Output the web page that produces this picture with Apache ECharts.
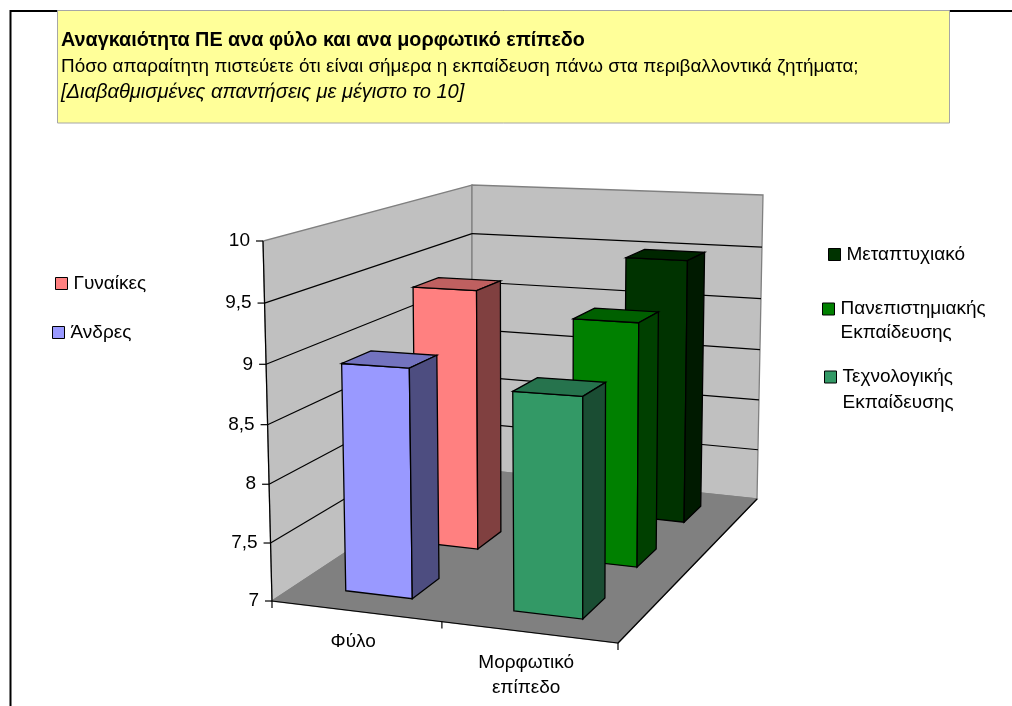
<!DOCTYPE html>
<html>
<head>
<meta charset="utf-8">
<style>
  html, body { margin: 0; padding: 0; background: #fff; }
  #chart { width: 1012px; height: 706px; }
</style>
<script src="https://cdn.jsdelivr.net/npm/echarts@6/dist/echarts.min.js"></script>
</head>
<body>
<div id="chart"></div>
<script>
const categories = ["Φύλο", "Μορφωτικό\nεπίπεδο"];
const yTicks = [7, 7.5, 8, 8.5, 9, 9.5, 10];
const yTickLabels = ["7", "7,5", "8", "8,5", "9", "9,5", "10"];

const women = [9.36, null];
const men = [8.95, null];
const postgraduate = [null, 9.49];
const university = [null, 9.16];
const technological = [null, 8.82];

const titleLine = "Αναγκαιότητα ΠΕ ανα φύλο και ανα μορφωτικό επίπεδο";
const questionLine = "Πόσο απαραίτητη πιστεύετε ότι είναι σήμερα η εκπαίδευση πάνω στα περιβαλλοντικά ζητήματα;";
const noteLine = "[Διαβαθμισμένες απαντήσεις με μέγιστο το 10]";

const FONT = '"Liberation Sans", Arial, sans-serif';

// corners of the 3D box on screen
const floorA = [272, 601], floorB = [618, 643], floorC = [757, 499], floorD = [472, 469];
const topA = [263, 241], topC = [763, 195], topD = [472, 185];
const GRID = { left: 272, top: 241, width: 346, height: 360 };
const K = -0.04; // slight perspective along the value axis

// projective map from (u across, v deep, t up), all 0..1, to the screen
const det = (p, q) => p[0] * q[1] - p[1] * q[0];
const d1 = [floorB[0] - floorC[0], floorB[1] - floorC[1]];
const d2 = [floorD[0] - floorC[0], floorD[1] - floorC[1]];
const s = [floorA[0] - floorB[0] + floorC[0] - floorD[0], floorA[1] - floorB[1] + floorC[1] - floorD[1]];
const g = det(s, d2) / det(d1, d2);
const h = det(d1, s) / det(d1, d2);
const wC = 1 + g + h, wD = 1 + h;
const num0 = [0, 1].map(i => ({
  a: floorB[i] - floorA[i] + g * floorB[i],
  b: floorD[i] - floorA[i] + h * floorD[i],
  c: floorA[i]
}));
const num1 = [0, 1].map(i => {
  const c = topA[i] * (1 + K);
  const b = topD[i] * (wD + K) - c;
  const a = topC[i] * (wC + K) - topD[i] * (wD + K);
  return { a, b, c };
});

function project(u, v, t) {
  const w = 1 + g * u + h * v;
  const den = w * (1 - t) + (w + K) * t;
  return [0, 1].map(i => {
    const n0 = num0[i].a * u + num0[i].b * v + num0[i].c;
    const n1 = num1[i].a * u + num1[i].b * v + num1[i].c;
    return (n0 * (1 - t) + n1 * t) / den;
  });
}

const toT = py => (GRID.top + GRID.height - py) / GRID.height;
const toU = px => (px - GRID.left) / GRID.width;

function poly(points, fill, stroke) {
  return {
    type: "polygon",
    shape: { points },
    style: { fill, stroke: stroke || null, lineWidth: 1.3 }
  };
}

function seg(p, q, stroke) {
  return {
    type: "line",
    shape: { x1: p[0], y1: p[1], x2: q[0], y2: q[1] },
    style: { stroke, lineWidth: 1.2 }
  };
}

function label(x, y, text, align, verticalAlign) {
  return {
    type: "text",
    style: { x, y, text, align, verticalAlign, font: "19px " + FONT, fill: "#000", lineHeight: 25 }
  };
}

function renderWalls(params, api) {
  const a0 = project(0, 0, 0), b0 = project(1, 0, 0), c0 = project(1, 1, 0), d0 = project(0, 1, 0);
  const a1 = project(0, 0, 1), c1 = project(1, 1, 1), d1t = project(0, 1, 1);
  return {
    type: "group",
    children: [
      poly([a0, d0, d1t, a1], "#C0C0C0", "#808080"),
      poly([d0, c0, c1, d1t], "#C0C0C0", "#808080"),
      poly([a0, b0, c0, d0], "#808080", "#808080"),
      seg(a0, b0, "#000"),
      seg(b0, c0, "#000"),
      seg(a0, a1, "#000")
    ]
  };
}

function renderTick(params, api) {
  const t = toT(api.coord([0, api.value(0)])[1]);
  const front = project(0, 0, t), back = project(0, 1, t), right = project(1, 1, t);
  const children = [
    seg([front[0] - 7, front[1]], front, "#000"),
    label(front[0] - 13, front[1], yTickLabels[params.dataIndex], "right", "middle")
  ];
  if (t > 0 && t < 1) {
    children.push(seg(front, back, "#000"), seg(back, right, "#000"));
  }
  return { type: "group", children };
}

function renderCategory(params, api) {
  const u = toU(api.coord([api.value(0), 7])[0]);
  const mid = project(u, 0, 0);
  const start = project(u - 0.25, 0, 0), end = project(u + 0.25, 0, 0);
  const children = [
    label(mid[0] - 3, mid[1] + 18, categories[params.dataIndex], "center", "top"),
    seg(end, [end[0], end[1] + 7], "#000")
  ];
  if (params.dataIndex === 0) children.push(seg(start, [start[0], start[1] + 7], "#000"));
  return { type: "group", children };
}

const BAR_W = 0.1, BAR_D = 0.065;

function renderBar(depth, color) {
  return function (params, api) {
    const pt = api.coord([api.value(0), api.value(1)]);
    const u = toU(pt[0]), t = toT(pt[1]);
    const v = (depth + 0.5) / 3;
    const u0 = u - BAR_W, u1 = u + BAR_W, v0 = v - BAR_D, v1 = v + BAR_D;
    const fl = project(u0, v0, 0), fr = project(u1, v0, 0), br = project(u1, v1, 0);
    const tfl = project(u0, v0, t), tfr = project(u1, v0, t), tbr = project(u1, v1, t), tbl = project(u0, v1, t);
    return {
      type: "group",
      children: [
        poly([fl, fr, tfr, tfl], color, "#000"),
        poly([tfl, tfr, tbr, tbl], echarts.color.lerp(0.25, [color, "#000"]), "#000"),
        poly([fr, br, tbr, tfr], echarts.color.lerp(0.5, [color, "#000"]), "#000")
      ]
    };
  };
}

function barSeries(name, values, depth, color) {
  return {
    name,
    type: "custom",
    renderItem: renderBar(depth, color),
    itemStyle: { color },
    data: values.map((v, i) => [i, v]).filter(d => d[1] !== null)
  };
}

// the legend centres its text on the swatch, a leading empty line puts the swatch on the first line
function legendAt(name, left, top, lineHeight) {
  return {
    data: [name],
    left,
    top,
    padding: 0,
    orient: "vertical",
    icon: "rect",
    itemWidth: 12,
    itemHeight: 12,
    itemGap: 0,
    selectedMode: false,
    formatter: n => (n.indexOf("\n") > 0 ? "\n" + n : n),
    itemStyle: { borderColor: "#000", borderWidth: 1 },
    textStyle: {
      fontFamily: FONT, fontSize: 19, color: "#000", lineHeight: lineHeight || 25,
      padding: [0, 0, 0, 1]
    }
  };
}

const uniName = "Πανεπιστημιακής\nΕκπαίδευσης";
const tecName = "Τεχνολογικής\nΕκπαίδευσης";

const option = {
  animation: false,
  backgroundColor: "#fff",
  grid: Object.assign({ containLabel: false }, GRID),
  xAxis: { type: "category", data: categories, show: false },
  yAxis: { type: "value", min: 7, max: 10, interval: 0.5, show: false },
  legend: [
    legendAt("Γυναίκες", 55, 271),
    legendAt("Άνδρες", 52, 320),
    legendAt("Μεταπτυχιακό", 828, 242),
    legendAt(uniName, 822, 273, 24),
    legendAt(tecName, 824, 338, 26)
  ],
  series: [
    { type: "custom", silent: true, renderItem: renderWalls, data: [[0]] },
    { type: "custom", silent: true, renderItem: renderTick, data: yTicks.map(v => [v]) },
    { type: "custom", silent: true, renderItem: renderCategory, data: categories.map((c, i) => [i]) },
    barSeries("Μεταπτυχιακό", postgraduate, 2, "#003300"),
    barSeries(uniName, university, 1, "#008000"),
    barSeries("Γυναίκες", women, 1, "#FF8080"),
    barSeries(tecName, technological, 0, "#339966"),
    barSeries("Άνδρες", men, 0, "#9999FF")
  ],
  graphic: [
    { type: "line", shape: { x1: 10, y1: 11, x2: 1012, y2: 11 }, style: { stroke: "#000", lineWidth: 2 } },
    { type: "line", shape: { x1: 10.5, y1: 10, x2: 10.5, y2: 706 }, style: { stroke: "#000", lineWidth: 2 } },
    { type: "rect", shape: { x: 57.5, y: 10.5, width: 892, height: 112.5 }, style: { fill: "#FFFF99", stroke: "#A6A6A6", lineWidth: 1 } },
    { type: "text", style: { x: 61, y: 41, text: titleLine, verticalAlign: "middle", font: "bold 19.8px " + FONT, fill: "#000" } },
    { type: "text", style: { x: 61, y: 67, text: questionLine, verticalAlign: "middle", font: "18.9px " + FONT, fill: "#000" } },
    { type: "text", style: { x: 61, y: 92, text: noteLine, verticalAlign: "middle", font: "italic 20.1px " + FONT, fill: "#000" } }
  ]
};

const chart = echarts.init(document.getElementById("chart"));
chart.setOption(option);
</script>
</body>
</html>
